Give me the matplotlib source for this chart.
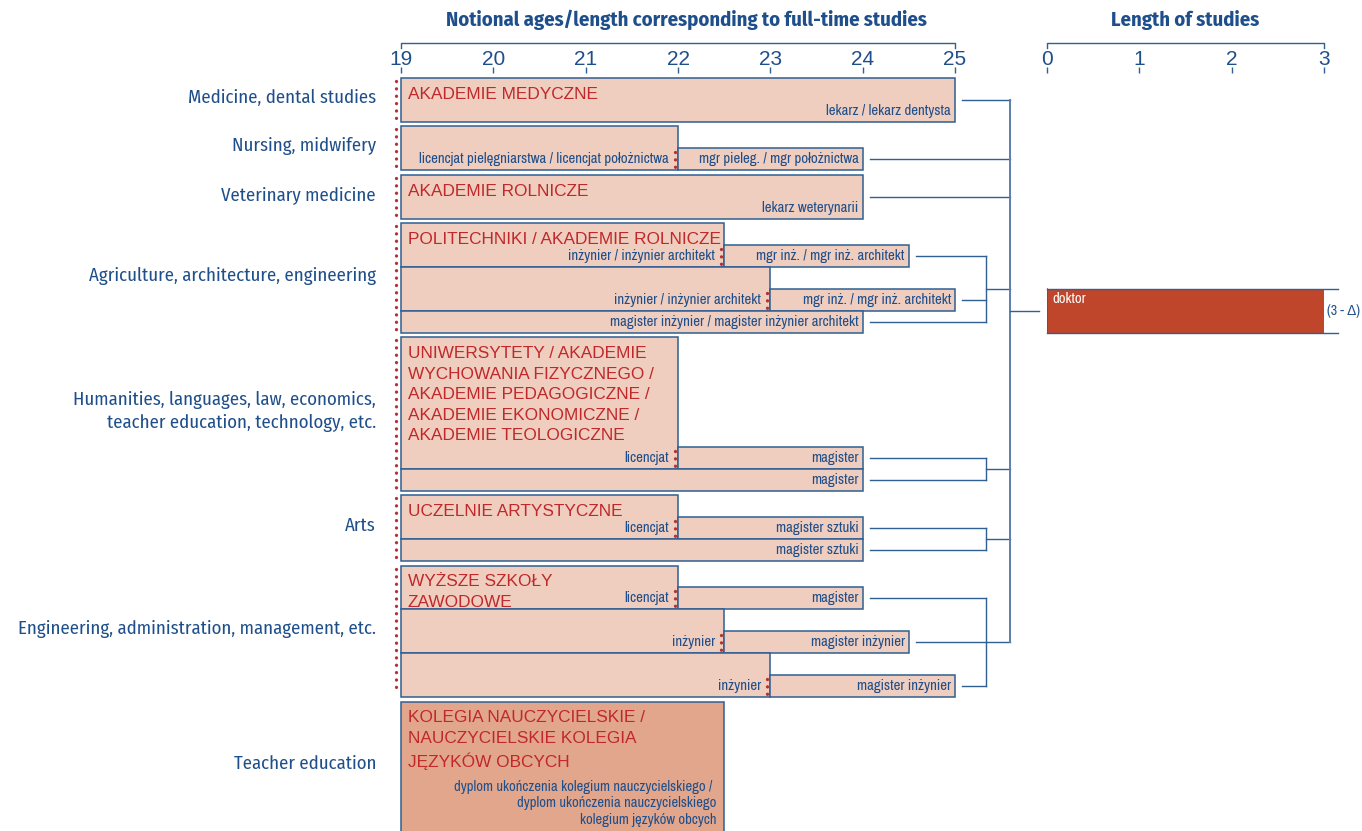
import matplotlib
matplotlib.use('Agg')
import matplotlib.pyplot as plt

plt.rcParams['font.family'] = ['Liberation Sans', 'DejaVu Sans']
NARROW = ['Archivo Narrow', 'Liberation Sans', 'DejaVu Sans']
COND = ['Fira Sans Condensed', 'PT Sans Narrow', 'DejaVu Sans']

# ---- data ----
ages = [19, 20, 21, 22, 23, 24, 25]
length_ticks = [0, 1, 2, 3]

categories = ["Medicine, dental studies", "Nursing, midwifery", "Veterinary medicine",
              "Agriculture, architecture, engineering",
              "Humanities, languages, law, economics,\nteacher education, technology, etc.",
              "Arts", "Engineering, administration, management, etc.", "Teacher education"]
institutions = ["AKADEMIE MEDYCZNE", "", "AKADEMIE ROLNICZE", "POLITECHNIKI / AKADEMIE ROLNICZE",
                "UNIWERSYTETY / AKADEMIE\nWYCHOWANIA FIZYCZNEGO /\nAKADEMIE PEDAGOGICZNE /\n"
                "AKADEMIE EKONOMICZNE /\nAKADEMIE TEOLOGICZNE",
                "UCZELNIE ARTYSTYCZNE", "WYŻSZE SZKOŁY\nZAWODOWE",
                "KOLEGIA NAUCZYCIELSKIE /\nNAUCZYCIELSKIE KOLEGIA\nJĘZYKÓW OBCYCH"]
leads_to_doctorate = [True, True, True, True, True, True, True, False]

bar_group = [0, 1, 1, 2, 3, 3, 3, 3, 3, 4, 4, 4, 5, 5, 5, 6, 6, 6, 6, 6, 6, 7]
bar_start = [19, 19, 22, 19, 19, 22.5, 19, 23, 19, 19, 22, 19, 19, 22, 19, 19, 22, 19, 22.5, 19, 23, 19]
bar_end = [25, 22, 24, 24, 22.5, 24.5, 23, 25, 24, 22, 24, 24, 22, 24, 24, 22, 24, 22.5, 24.5, 23, 25, 22.5]
bar_label = ["lekarz / lekarz dentysta",
             "licencjat pielęgniarstwa / licencjat położnictwa", "mgr pieleg. / mgr położnictwa",
             "lekarz weterynarii",
             "inżynier / inżynier architekt", "mgr inż. / mgr inż. architekt",
             "inżynier / inżynier architekt", "mgr inż. / mgr inż. architekt",
             "magister inżynier / magister inżynier architekt",
             "licencjat", "magister", "magister",
             "licencjat", "magister sztuki", "magister sztuki",
             "licencjat", "magister", "inżynier", "magister inżynier", "inżynier", "magister inżynier",
             "dyplom ukończenia kolegium nauczycielskiego / \ndyplom ukończenia nauczycielskiego\n"
             "kolegium języków obcych"]

doctor_length = 3
doctor_label = "doktor"
doctor_note = "(3 - Δ)"

# ---- layout (pixels) ----
bar_row = [0, 0, 1, 0, 0, 1, 2, 3, 4, 0, 5, 6, 0, 1, 2, 0, 1, 2, 3, 4, 5, 0]
bar_span = [2, 2, 1, 2, 2, 1, 2, 1, 1, 6, 1, 1, 2, 1, 1, 2, 1, 2, 1, 2, 1, 6]
group_units = [2, 2, 2, 5, 7, 3, 6, 6]
unit, gap, top0 = 21.9, 4.6, 78

BLUE = '#1f4f8a'
EDGE = '#2f5f93'
FILL = '#efcdbf'
FILL_DARK = '#e2a68c'
RED = '#c0282a'
DOT = '#b8312f'
DOKTOR = '#bf462a'

W, H = 1362, 831
fig = plt.figure(figsize=(W / 100, H / 100), dpi=100)
ax = fig.add_axes([401 / W, 0, 554 / W, 1])
ax2 = fig.add_axes([1047 / W, 0, 277 / W, 1])
ppy = 554 / 6.0


def dx(px):
    return px / ppy


group_top = []
t = top0
for n in group_units:
    group_top.append(t)
    t += n * unit + gap

for a, lo, hi in [(ax, ages[0], ages[-1]), (ax2, length_ticks[0], length_ticks[-1])]:
    a.set_xlim(lo, hi)
    a.set_ylim(H, 0)
    for s in a.spines.values():
        s.set_visible(False)
    a.spines['top'].set_position(('data', 73))
    a.xaxis.set_ticks_position('top')
    a.tick_params(axis='x', direction='out', length=4, width=1, color=EDGE, pad=-1,
                  labelsize=15, labelcolor=BLUE)
    a.set_yticks([])
    a.plot([lo, lo, hi, hi], [48, 43, 43, 48], color=EDGE, lw=1, clip_on=False)
ax.set_xticks(ages)
ax2.set_xticks(length_ticks)

ax.text(22.09, 20, "Notional ages/length corresponding to full-time studies", ha='center', va='center',
        fontsize=14.8, fontweight='bold', color=BLUE, family=COND)
ax2.text(1.5, 20, "Length of studies", ha='center', va='center',
         fontsize=14.8, fontweight='bold', color=BLUE, family=COND)

# bars
joins = []
for g in range(len(categories)):
    gt = group_top[g]
    gb = gt + group_units[g] * unit
    ax.text(19 - dx(25), (gt + min(gb, H)) / 2 - 2, categories[g], ha='right', va='center',
            fontsize=13.5, color=BLUE, family=COND, linespacing=1.35)
    if institutions[g]:
        ax.text(19 + dx(7), gt + 9, institutions[g], ha='left', va='top', fontsize=12.4,
                color=RED, linespacing=1.45)
    if leads_to_doctorate[g]:
        ax.plot([19 - dx(5)] * 2, [gt + 3, gb - 3], color=DOT, lw=2.4,
                ls=(0, (0.01, 2.2)), dash_capstyle='round', clip_on=False)

    idx = [i for i in range(len(bar_group)) if bar_group[i] == g]
    ends = []
    for i in idx:
        y0 = gt + bar_row[i] * unit
        h = bar_span[i] * unit
        fc = FILL if leads_to_doctorate[g] else FILL_DARK
        ax.barh(y0, bar_end[i] - bar_start[i], height=h, left=bar_start[i], align='edge',
                color=fc, edgecolor=EDGE, linewidth=1.1, clip_on=False)
        junction = any(bar_start[j] == bar_end[i] for j in idx)
        if junction:
            ax.plot([bar_end[i] - dx(3)] * 2, [y0 + h - unit + 4, y0 + h - 3], color=DOT, lw=2.4,
                    ls=(0, (0.01, 2.2)), dash_capstyle='round')
            ax.text(bar_end[i] - dx(9), y0 + h - unit / 2, bar_label[i], ha='right', va='center',
                    fontsize=10.7, color=BLUE, family=NARROW)
        elif leads_to_doctorate[g]:
            ax.text(bar_end[i] - dx(4), y0 + h - unit / 2, bar_label[i], ha='right', va='center',
                    fontsize=10.7, color=BLUE, family=NARROW)
            ends.append((bar_end[i], y0 + h / 2))
        else:
            ax.text(bar_end[i] - dx(8), y0 + 78, bar_label[i], ha='right', va='top',
                    fontsize=10.5, color=BLUE, family=NARROW, linespacing=1.25,
                    multialignment='right')

    # connectors
    x_main = 25 + dx(55)
    x_sub = 25 + dx(31)
    if len(ends) == 1:
        e, y = ends[0]
        ax.plot([e + dx(7), x_main], [y, y], color=EDGE, lw=1, clip_on=False)
        joins.append(y)
    elif len(ends) > 1:
        for e, y in ends:
            ax.plot([e + dx(7), x_sub], [y, y], color=EDGE, lw=1, clip_on=False)
        ys = [y for _, y in ends]
        ax.plot([x_sub, x_sub], [min(ys), max(ys)], color=EDGE, lw=1, clip_on=False)
        ym = (min(ys) + max(ys)) / 2
        ax.plot([x_sub, x_main], [ym, ym], color=EDGE, lw=1, clip_on=False)
        joins.append(ym)

x_main = 25 + dx(55)
ax.plot([x_main, x_main], [min(joins), max(joins)], color='#5b80aa', lw=1.4, clip_on=False)

# doctorate
d_top = group_top[3] + 3 * unit
d_h = 2 * unit
d_mid = d_top + d_h / 2
ax.plot([x_main, 25 + dx(84)], [d_mid, d_mid], color=EDGE, lw=1, clip_on=False)
ax2.barh(d_top, doctor_length, height=d_h, left=0, align='edge', color=DOKTOR, linewidth=0)
ax2.plot([0, 0], [d_top, d_top + d_h], color=EDGE, lw=1.2)
for yy in [d_top, d_top + d_h]:
    ax2.plot([0, doctor_length + dx(14)], [yy, yy], color=EDGE, lw=1, clip_on=False)
ax2.text(dx(5), d_top + 10, doctor_label, ha='left', va='center', color='white',
         fontsize=10.5, family=NARROW)
ax2.text(doctor_length + dx(3), d_mid, doctor_note, ha='left', va='center', color=BLUE,
         fontsize=10, family=NARROW, clip_on=False)

fig.savefig('out.png', dpi=100)
